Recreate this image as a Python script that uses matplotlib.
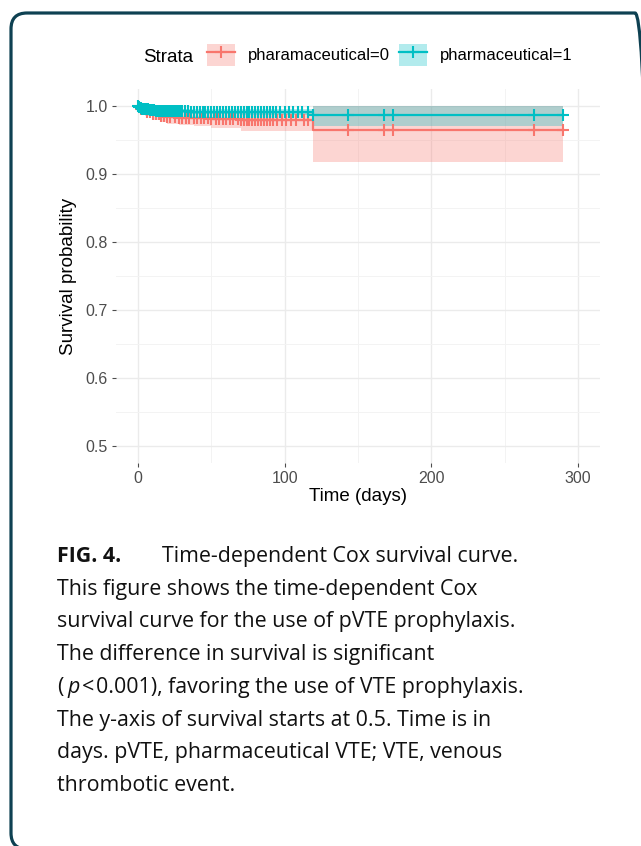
import numpy as np
import matplotlib
matplotlib.use("Agg")
import matplotlib.pyplot as plt
from matplotlib.patches import FancyBboxPatch, Patch
from matplotlib.lines import Line2D
from matplotlib.legend_handler import HandlerTuple

# ---------------- data ----------------
strata_labels = ["pharamaceutical=0", "pharmaceutical=1"]
colors = ["#F8766D", "#00BFC4"]

# pharmaceutical = 0
time_0 = [0, 2, 5, 10, 15, 20, 28, 38, 50, 70, 119, 290]
surv_0 = [1.0, 0.995, 0.991, 0.988, 0.986, 0.984, 0.983, 0.982, 0.981, 0.980, 0.964, 0.964]
lower_0 = [1.0, 0.990, 0.985, 0.980, 0.977, 0.974, 0.972, 0.970, 0.967, 0.963, 0.918, 0.918]
upper_0 = [1.0, 0.999, 0.997, 0.995, 0.994, 0.993, 0.992, 0.992, 0.991, 0.991, 1.0, 1.0]
censor_0 = [2, 4, 6, 8, 10, 12, 14, 16, 18, 20, 22, 25, 28, 30, 33, 35, 38, 40, 43, 45, 48,
            50, 53, 55, 58, 60, 63, 65, 68, 70, 72, 74, 76, 78, 80, 82, 84, 86, 88, 90,
            92, 95, 98, 101, 104, 108, 113, 116, 143, 168, 174, 270, 290]

# pharmaceutical = 1
time_1 = [0, 1, 2, 3, 5, 8, 12, 18, 25, 35, 50, 70, 119, 290]
surv_1 = [1.0, 0.998, 0.997, 0.996, 0.995, 0.994, 0.993, 0.9925, 0.992, 0.9918, 0.9915, 0.991, 0.987, 0.987]
lower_1 = [1.0, 0.997, 0.995, 0.994, 0.993, 0.992, 0.991, 0.990, 0.989, 0.988, 0.988, 0.987, 0.970, 0.970]
upper_1 = [1.0, 0.999, 0.999, 0.998, 0.997, 0.996, 0.995, 0.995, 0.995, 0.995, 0.995, 0.995, 1.0, 1.0]
censor_1 = [0, 1, 2, 3, 4, 5, 6, 7, 8, 9, 10, 11, 12, 13, 14, 15, 16, 17, 18, 19, 20, 21, 22,
            23, 24, 25, 26, 27, 28, 29, 30, 32, 34, 36, 38, 40, 42, 44, 46, 48, 50, 52, 54,
            56, 58, 60, 62, 64, 66, 68, 70, 72, 74, 76, 78, 80, 82, 84, 86, 88, 90, 92, 94,
            97, 100, 103, 106, 109, 112, 116, 119, 143, 168, 174, 270, 290]

x_ticks = [0, 100, 200, 300]
y_ticks = [0.5, 0.6, 0.7, 0.8, 0.9, 1.0]

caption_lines = [
    "This figure shows the time-dependent Cox",
    "survival curve for the use of pVTE prophylaxis.",
    "The difference in survival is significant",
    None,
    "The y-axis of survival starts at 0.5. Time is in",
    "days. pVTE, pharmaceutical VTE; VTE, venous",
    "thrombotic event.",
]

# ---------------- figure ----------------
W, H = 641, 846
fig = plt.figure(figsize=(W / 100, H / 100), dpi=100)
fig.patch.set_facecolor("white")

# frame (runs past right and bottom edges as in the scan)
frame = FancyBboxPatch((11, H - 849), 640, 836, boxstyle="round,pad=0,rounding_size=16",
                       transform=None, facecolor="none", edgecolor="#0E4152", linewidth=2.3)
fig.patches.append(frame)

ax = fig.add_axes([116 / W, 1 - 463 / H, (600 - 116) / W, (463 - 89) / H])
ax.set_facecolor("white")
for s in ax.spines.values():
    s.set_visible(False)

ax.set_xlim(-15, 315)
ax.set_ylim(0.475, 1.025)
ax.set_xticks(x_ticks)
ax.set_yticks(y_ticks)
ax.set_xticks([50, 150, 250], minor=True)
ax.set_yticks([0.55, 0.65, 0.75, 0.85, 0.95], minor=True)
ax.set_yticklabels([f"{v:.1f}" for v in y_ticks])
ax.grid(True, which="major", color="#EBEBEB", linewidth=1.0)
ax.grid(True, which="minor", color="#F3F3F3", linewidth=0.7)
ax.set_axisbelow(True)
ax.tick_params(axis="both", which="major", colors="#4D4D4D", labelcolor="#4D4D4D",
               labelsize=11.5, length=3, width=0.8, pad=3)
ax.tick_params(axis="both", which="minor", length=0)
for lab in ax.get_xticklabels() + ax.get_yticklabels():
    lab.set_fontfamily("Liberation Sans")

series = [
    (time_0, surv_0, lower_0, upper_0, censor_0, colors[0]),
    (time_1, surv_1, lower_1, upper_1, censor_1, colors[1]),
]
for t, s, lo, up, cens, c in series:
    ax.fill_between(t, lo, up, step="post", color=c, alpha=0.3, linewidth=0)
for t, s, lo, up, cens, c in series:
    t = np.array(t); s = np.array(s)
    ax.step(t, s, where="post", color=c, linewidth=1.6)
    idx = np.searchsorted(t, np.array(cens), side="right") - 1
    ax.plot(cens, s[idx], linestyle="none", marker="+", color=c, markersize=9, markeredgewidth=1.5)

ax.set_xlabel("Time (days)", fontsize=13.5, family="Liberation Sans", color="black", labelpad=1)
ax.set_ylabel("Survival probability", fontsize=13.5, family="Liberation Sans", color="black", labelpad=6)

# legend
handles = []
for c in colors:
    handles.append((Patch(facecolor=c, alpha=0.3, edgecolor="none"),
                    Line2D([], [], color=c, marker="+", markersize=9, markeredgewidth=1.5, linewidth=1.6)))
fig.text(143 / W, 1 - 57 / H, "Strata", fontsize=13.5, family="Liberation Sans", va="center", ha="left")
leg = fig.legend(handles, strata_labels, ncol=2, loc="center left",
                 bbox_to_anchor=(207 / W, 1 - 55 / H), frameon=False,
                 handler_map={tuple: HandlerTuple(ndivide=1, pad=0)},
                 prop={"family": "Liberation Sans", "size": 12},
                 handlelength=1.7, handleheight=1.6, handletextpad=0.75, columnspacing=0.55,
                 borderpad=0, borderaxespad=0)

# caption
cap_font = "Open Sans"
cap_size = 15.4
renderer = fig.canvas.get_renderer()
x0 = 57
base = [562, 595, 627, 660, 693, 726, 758, 791]

def put(xpix, ypix, txt, **kw):
    t = fig.text(xpix / W, 1 - ypix / H, txt, fontsize=cap_size, family=cap_font,
                 va="baseline", ha="left", color="#111111", **kw)
    bb = t.get_window_extent(renderer=renderer)
    return xpix + bb.width

put(x0, base[0], "FIG. 4.", weight="bold")
put(162, base[0], "Time-dependent Cox survival curve.")
for i, line in enumerate(caption_lines):
    y = base[i + 1]
    if line is None:
        xx = put(x0, y, "(")
        xx = put(xx + 4, y, "p", style="italic")
        xx = put(xx + 2, y, "<")
        put(xx + 2, y, "0.001), favoring the use of VTE prophylaxis.")
    else:
        put(x0, y, line)

fig.savefig("out.png", dpi=100, facecolor="white")
